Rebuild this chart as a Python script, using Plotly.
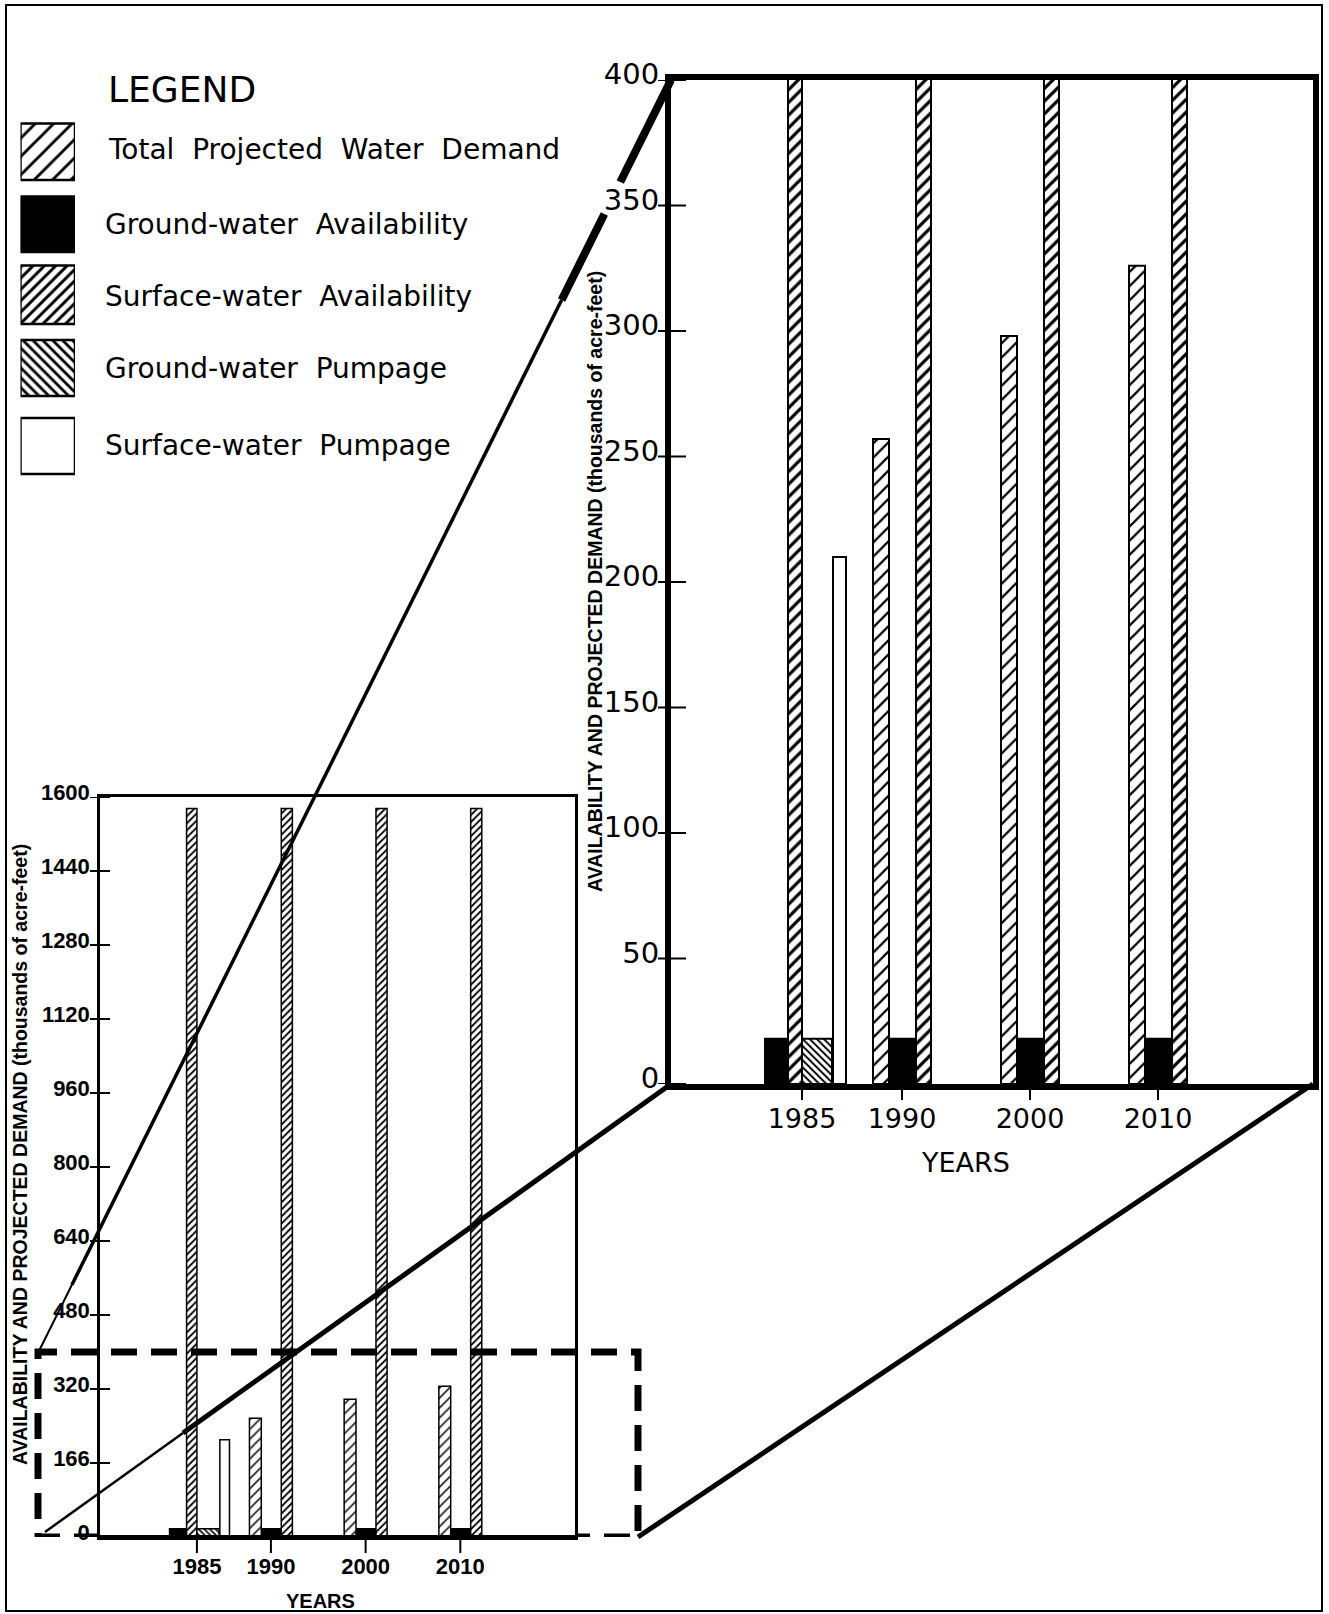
import plotly.graph_objects as go

# ---------------- data ----------------
years = ["1985", "1990", "2000", "2010"]
total_projected_demand = [None, 257, 298, 326]
groundwater_availability = [18, 18, 18, 18]
surfacewater_availability = [1575, 1575, 1575, 1575]
groundwater_pumpage = [18, None, None, None]
surfacewater_pumpage = [210, None, None, None]

big_y_ticks = [0, 50, 100, 150, 200, 250, 300, 350, 400]
small_y_ticks = [0, 160, 320, 480, 640, 800, 960, 1120, 1280, 1440, 1600]
small_y_ticktext = ["0", "166", "320", "480", "640", "800", "960", "1120", "1280", "1440", "1600"]

legend_labels = [
    "Total \u00a0Projected \u00a0Water \u00a0Demand",
    "Ground-water \u00a0Availability",
    "Surface-water \u00a0Availability",
    "Ground-water \u00a0Pumpage",
    "Surface-water \u00a0Pumpage",
]
y_title = "AVAILABILITY AND PROJECTED DEMAND (thousands of acre-feet)"

# ---------------- layout constants (pixels of the 1329x1614 page) ----------------
W, H = 1329, 1614
YEAR_SLOTS = [0.0, 1.0, 2.28, 3.56]          # uneven spacing of the year groups
X_RANGE = [-1.31, 5.11]
BIG = dict(x0=671, x1=1313, y0=80, y1=1084)
SMALL = dict(x0=100, x1=575, y0=797, y1=1537)
ZOOM_MAX = 400                               # range shown in the enlarged chart


def px(x):
    return x / W


def py(y):
    return 1 - y / H


# per-series bar placement inside each year group (slot units)
PLACE = {
    "demand": ([-0.29] * 4, [0.16] * 4),
    "gwa": ([-0.37, -0.13, -0.13, -0.13], [0.25, 0.27, 0.27, 0.27]),
    "swa": ([-0.14, 0.14, 0.14, 0.14], [0.14, 0.15, 0.15, 0.15]),
    "gwp": ([0.0] * 4, [0.30] * 4),
    "swp": ([0.31] * 4, [0.13] * 4),
}

FONT_BIG = "DejaVu Sans"
FONT_SMALL = "Liberation Sans"


def style(kind, scale):
    lw = 2 if scale == "big" else 1.5
    line = dict(color="black", width=lw)
    if kind == "gwa":
        return dict(color="black", line=line)
    if kind == "swp":
        return dict(color="white", line=line)
    sizes = {"big": {"demand": 10, "swa": 9, "gwp": 5},
             "small": {"demand": 7, "swa": 5, "gwp": 4},
             "legend": {"demand": 13, "swa": 8, "gwp": 7}}[scale]
    shape = {"demand": "/", "swa": "/", "gwp": "\\"}[kind]
    solidity = {"demand": 0.22, "swa": 0.36, "gwp": 0.4}[kind]
    return dict(color="white", line=line,
                pattern=dict(shape=shape, size=sizes[kind], solidity=solidity,
                             fgcolor="black", bgcolor="white", fillmode="replace"))


fig = go.Figure()

series = [
    ("gwa", groundwater_availability),
    ("swa", surfacewater_availability),
    ("demand", total_projected_demand),
    ("gwp", groundwater_pumpage),
    ("swp", surfacewater_pumpage),
]

for scale, xa, ya in [("big", "x", "y"), ("small", "x2", "y2")]:
    for kind, vals in series:
        offs, wids = PLACE[kind]
        fig.add_trace(go.Bar(
            x=YEAR_SLOTS, y=vals, offset=offs, width=wids,
            marker=style(kind, scale), xaxis=xa, yaxis=ya,
            showlegend=False, hoverinfo="skip"))

# legend swatches drawn as bars on a hidden helper axis (pixel units, 0 = page y 480)
swatches = [(123.5, 180), (196.5, 252), (265.5, 324), (340, 396), (418, 474)]
legend_kinds = ["demand", "gwa", "swa", "gwp", "swp"]
for kind, (t, b) in zip(legend_kinds, swatches):
    m = style(kind, "legend")
    m["line"] = dict(color="black", width=2.5)
    fig.add_trace(go.Bar(x=[0], y=[b - t], base=[480 - b], width=[1],
                         marker=m, xaxis="x3", yaxis="y3",
                         showlegend=False, hoverinfo="skip"))

common_axis = dict(showgrid=False, zeroline=False, showline=True, mirror=True,
                   linecolor="black", ticks="", automargin=False)

fig.update_layout(
    template="none",
    width=W, height=H, margin=dict(l=0, r=0, t=0, b=0, pad=0, autoexpand=False),
    paper_bgcolor="white", plot_bgcolor="white", barmode="overlay", showlegend=False,
    xaxis=dict(domain=[px(BIG["x0"]), px(BIG["x1"])], range=X_RANGE, anchor="y",
               tickvals=YEAR_SLOTS, ticktext=years, linewidth=6,
               ticklabelstandoff=6,
               tickfont=dict(family=FONT_BIG, size=27, color="black"),
               **common_axis),
    yaxis=dict(domain=[py(BIG["y1"]), py(BIG["y0"])], range=[0, ZOOM_MAX], anchor="x",
               tickvals=big_y_ticks, linewidth=6, ticklabelshift=-6,
               tickfont=dict(family=FONT_BIG, size=29, color="black"),
               **common_axis),
    xaxis2=dict(domain=[px(SMALL["x0"]), px(SMALL["x1"])], range=X_RANGE, anchor="y2",
                tickvals=YEAR_SLOTS, ticktext=years, linewidth=2.5,
                ticklabelstandoff=8,
                tickfont=dict(family=FONT_SMALL, size=22, color="black", weight="bold"),
                **common_axis),
    yaxis2=dict(domain=[py(SMALL["y1"]), py(SMALL["y0"])], range=[0, 1600], anchor="x2",
                tickvals=small_y_ticks, ticktext=small_y_ticktext, linewidth=2.5,
                ticklabelshift=-5, ticklabelstandoff=3,
                tickfont=dict(family=FONT_SMALL, size=22, color="black", weight="bold"),
                **common_axis),
    xaxis3=dict(domain=[px(20.5), px(75)], range=[-0.5, 0.5], visible=False,
                anchor="y3", automargin=False),
    yaxis3=dict(domain=[py(480), py(120)], range=[0, 360], visible=False,
                anchor="x3", automargin=False),
)

shapes = []
# outer frame
shapes.append(dict(type="rect", xref="paper", yref="paper",
                   x0=px(6), x1=px(1322), y0=py(1611), y1=py(5),
                   line=dict(color="black", width=2)))
# heavier base line of the small chart
shapes.append(dict(type="line", xref="paper", yref="y2", x0=px(SMALL["x0"]),
                   x1=px(SMALL["x1"]), y0=0, y1=0, line=dict(color="black", width=4)))
# cross ticks on the y axes
for v in big_y_ticks:
    shapes.append(dict(type="line", xref="paper", yref="y", x0=px(BIG["x0"] - 13),
                       x1=px(BIG["x0"] + 15), y0=v, y1=v,
                       line=dict(color="black", width=2)))
for v in small_y_ticks:
    shapes.append(dict(type="line", xref="paper", yref="y2", x0=px(SMALL["x0"] - 10),
                       x1=px(SMALL["x0"] + 10), y0=v, y1=v,
                       line=dict(color="black", width=2)))
# downward ticks on the x axes
for s in YEAR_SLOTS:
    shapes.append(dict(type="line", xref="x", yref="paper", x0=s, x1=s,
                       y0=py(BIG["y1"]), y1=py(BIG["y1"] + 16),
                       line=dict(color="black", width=2)))
    shapes.append(dict(type="line", xref="x2", yref="paper", x0=s, x1=s,
                       y0=py(SMALL["y1"]), y1=py(SMALL["y1"] + 16),
                       line=dict(color="black", width=2)))
# dashed box marking the enlarged part of the small chart
path = (f"M {px(SMALL['x0'])},0 L {px(38)},0 L {px(38)},{ZOOM_MAX} "
        f"L {px(638)},{ZOOM_MAX} L {px(638)},0 L {px(SMALL['x1'])},0")
shapes.append(dict(type="path", xref="paper", yref="y2", path=path,
                   line=dict(color="black", width=7, dash="26px,14px")))


def seg(x0, y0, x1, y1, w):
    shapes.append(dict(type="line", xref="paper", yref="paper",
                       x0=px(x0), y0=py(y0), x1=px(x1), y1=py(y1),
                       line=dict(color="black", width=w)))


def on_line1(y):
    # point of the upper connector (big chart corner -> dashed box corner) at page row y
    x_top, y_top, x_bot, y_bot = 671, 80, 38, 1353
    return x_top + (x_bot - x_top) * (y - y_top) / (y_bot - y_top), y


# connector lines between the dashed box and the enlarged chart
seg(*on_line1(80), *on_line1(182), 8)          # heavy part, broken around the "350" label
seg(*on_line1(214), *on_line1(300), 8)
seg(*on_line1(300), *on_line1(1285), 3.5)
seg(*on_line1(1285), *on_line1(1353), 2)
seg(45, 1532, 183, 1433, 2.5)
seg(183, 1433, 671, 1084, 5)
seg(638, 1537, 1313, 1084, 5)

fig.update_layout(shapes=shapes)

ann = []
ann.append(dict(text="LEGEND", x=px(106), y=py(90), xanchor="left", yanchor="middle",
                font=dict(family=FONT_BIG, size=36, color="black")))
text_y = [150, 224, 296.5, 368.5, 445]
text_x = [106, 103, 103, 103, 103]
for lab, tx, ty in zip(legend_labels, text_x, text_y):
    ann.append(dict(text=lab, x=px(tx), y=py(ty), xanchor="left", yanchor="middle",
                    font=dict(family=FONT_BIG, size=28, color="black")))
ann.append(dict(text=y_title, x=px(595), y=py(582), textangle=-90,
                xanchor="center", yanchor="middle",
                font=dict(family=FONT_SMALL, size=19.5, color="black", weight="bold")))
ann.append(dict(text=y_title, x=px(20), y=py(1155), textangle=-90,
                xanchor="center", yanchor="middle",
                font=dict(family=FONT_SMALL, size=19.5, color="black", weight="bold")))
ann.append(dict(text="YEARS", x=px(966), y=py(1162), xanchor="center", yanchor="middle",
                font=dict(family=FONT_BIG, size=27, color="black")))
ann.append(dict(text="YEARS", x=px(320), y=py(1601), xanchor="center", yanchor="middle",
                font=dict(family=FONT_SMALL, size=20, color="black", weight="bold")))
for a in ann:
    a.update(xref="paper", yref="paper", showarrow=False)
fig.update_layout(annotations=ann)

# remove the default 8px body margin so the 1329x1614 figure fills the window exactly
post = ("document.documentElement.style.margin='0';document.body.style.margin='0';"
        "document.documentElement.style.overflow='hidden';document.body.style.overflow='hidden';")
fig.write_html("out.html", config={"displayModeBar": False}, post_script=post)
